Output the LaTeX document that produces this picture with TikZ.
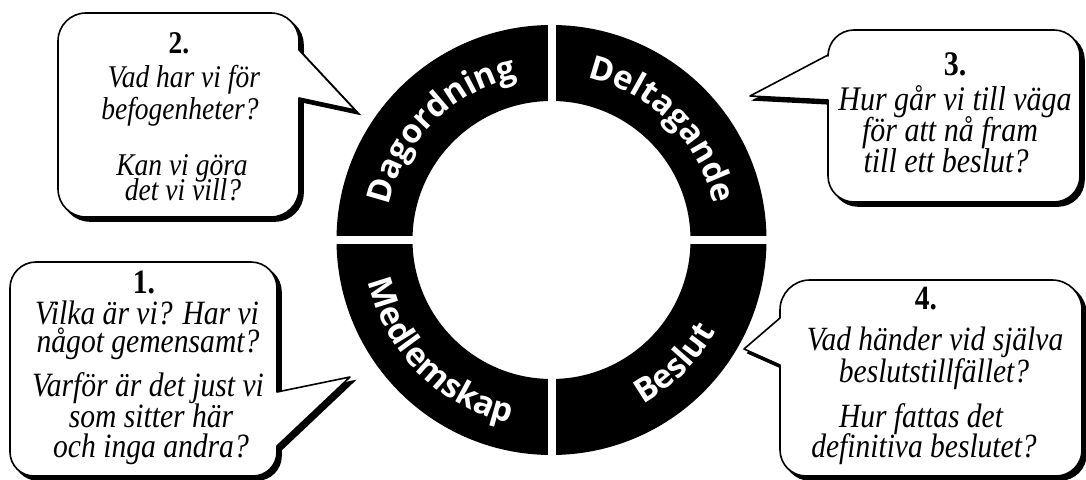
\documentclass[tikz,border=0pt]{standalone}
\usepackage{fontspec}
\usepackage{graphicx}
\setmainfont{Liberation Serif}
\newfontfamily\ringfam{Open Sans}
\usetikzlibrary{decorations.text,calc}
\newcommand\ringtxt{\ringfam\bfseries\fontsize{33}{33}\selectfont\color{white}}
\newcommand\sy[1]{\scalebox{1}[1.15]{#1}}
\tikzset{
  bubble/.style={fill=white, draw=black, line width=1.6pt, line join=round,
    preaction={fill=black, draw=black, line width=1.6pt, transform canvas={shift={(4pt,-4pt)}}}},
  qnum/.style={anchor=base, inner sep=0pt, font=\fontsize{#1}{#1}\selectfont\bfseries},
  qline/.style={anchor=base, inner sep=0pt, font=\fontsize{#1}{#1}\selectfont\itshape},
  ringlabel/.style={decorate, decoration={text along path, text align=center, text={#1}}}
}
\begin{document}
\begin{tikzpicture}[x=1pt,y=1pt]
\useasboundingbox (0,0) rectangle (1086,479);
\clip (0,0) rectangle (1086,479);
\fill[white] (0,0) rectangle (1086,479);
% ring
\coordinate (c) at (551.5,239);
\fill[black, even odd rule] (c) circle[radius=215] (c) circle[radius=139];
\fill[white] (547.5,20) rectangle (555.5,458);
\fill[white] (332,235) rectangle (771,243);
\path[ringlabel={|\ringtxt|Dagordning}] ($(c)+(180:166)$) arc[start angle=180,end angle=90,radius=166];
\path[ringlabel={|\ringtxt|Deltagande}] ($(c)+(90:166)$) arc[start angle=90,end angle=0,radius=166];
\path[ringlabel={|\ringtxt|Medlemskap}] ($(c)+(180:188)$) arc[start angle=180,end angle=270,radius=188];
\path[ringlabel={|\ringtxt|Beslut}] ($(c)+(270:188)$) arc[start angle=270,end angle=360,radius=188];
% callout 2 (top left)
\path[bubble] (86,466) -- (271,466) arc[start angle=90,end angle=0,radius=28] -- (299,429) -- (355,369) -- (299,381)
  -- (299,290) arc[start angle=0,end angle=-90,radius=28] -- (86,262) arc[start angle=270,end angle=180,radius=28]
  -- (58,438) arc[start angle=180,end angle=90,radius=28] -- cycle;
% callout 1 (bottom left)
\path[bubble] (36,217) -- (251,217) arc[start angle=90,end angle=0,radius=26] -- (277,87) -- (350,102) -- (277,33)
  -- (277,27) arc[start angle=0,end angle=-90,radius=24] -- (34,3) arc[start angle=270,end angle=180,radius=24]
  -- (10,191) arc[start angle=180,end angle=90,radius=26] -- cycle;
% callout 3 (top right)
\path[bubble] (854,449) -- (1054,449) arc[start angle=90,end angle=0,radius=26] -- (1080,303) arc[start angle=0,end angle=-90,radius=26]
  -- (854,277) arc[start angle=270,end angle=180,radius=26] -- (828,379) -- (750,383) -- (828,424)
  -- (828,423) arc[start angle=180,end angle=90,radius=26] -- cycle;
% callout 4 (bottom right)
\path[bubble] (810,199) -- (1052,199) arc[start angle=90,end angle=0,radius=30] -- (1082,29) arc[start angle=0,end angle=-90,radius=26]
  -- (806,3) arc[start angle=270,end angle=180,radius=26] -- (780,114) -- (744,130) -- (780,161)
  -- (780,169) arc[start angle=180,end angle=90,radius=30] -- cycle;
% texts callout 2
\node[qnum=27.5] (n2) at (179,425) {\sy{2.}};
\node[qline=27.5] (t2a) at (184,391) {\sy{Vad har vi för}};
\node[qline=27.5] (t2b) at (180,359) {\sy{befogenheter?}};
\node[qline=27.5] (t2c) at (182,303) {\sy{Kan vi göra}};
\node[qline=27.5] (t2d) at (183,278) {\sy{det vi vill?}};
% texts callout 1
\node[qnum=29.6] (n1) at (144,185) {\sy{1.}};
\node[qline=29.6] (t1a) at (147,154) {\sy{Vilka är vi? Har vi}};
\node[qline=29.6] (t1b) at (148,126) {\sy{något gemensamt?}};
\node[qline=29.6] (t1c) at (148,82) {\sy{Varför är det just vi}};
\node[qline=29.6] (t1d) at (151,51) {\sy{som sitter här}};
\node[qline=29.6] (t1e) at (151,21) {\sy{och inga andra?}};
% texts callout 3
\node[qnum=30] (n3) at (955,403) {\sy{3.}};
\node[qline=30] (t3a) at (955,368) {\sy{Hur går vi till väga}};
\node[qline=30] (t3b) at (950,337) {\sy{för att nå fram}};
\node[qline=30] (t3c) at (946,306) {\sy{till ett beslut?}};
% texts callout 4
\node[qnum=29.5] (n4) at (926,169) {\sy{4.}};
\node[qline=29.5] (t4a) at (935,128) {\sy{Vad händer vid själva}};
\node[qline=29.5] (t4b) at (934,96) {\sy{beslutstillfället?}};
\node[qline=29.5] (t4c) at (921,51) {\sy{Hur fattas det}};
\node[qline=29.5] (t4d) at (924,21) {\sy{definitiva beslutet?}};
\end{tikzpicture}
\end{document}
